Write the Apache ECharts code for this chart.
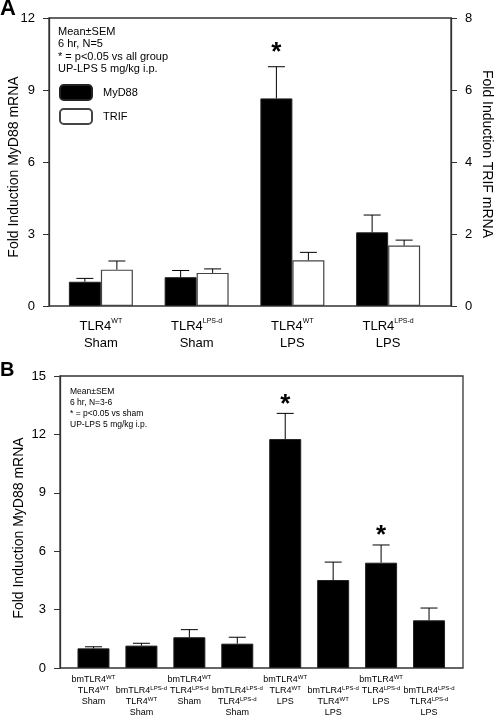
<!DOCTYPE html>
<html><head><meta charset="utf-8">
<script src="https://cdn.jsdelivr.net/npm/echarts@6/dist/echarts.min.js"></script>
<style>html,body{margin:0;padding:0;background:#fff}#c{width:494px;height:716px}</style>
</head><body><div id="c"></div>
<script>
// ---------- Panel A data ----------
const categoriesA = ['TLR4<WT>\nSham', 'TLR4<LPS-d>\nSham', 'TLR4<WT>\nLPS', 'TLR4<LPS-d>\nLPS'];
const myd88A    = [1.01, 1.20, 8.65, 3.07];
const myd88ErrA = [0.14, 0.28, 1.32, 0.72];
const trifA     = [1.01, 0.92, 1.27, 1.68];
const trifErrA  = [0.24, 0.11, 0.22, 0.15];
const sigMyd88A = [false, false, true, false];
const leftTicksA  = { min: 0, max: 12, interval: 3 };
const rightTicksA = { min: 0, max: 8, interval: 2 };

// ---------- Panel B data ----------
const categoriesB = [
  'bmTLR4<WT>\nTLR4<WT>\nSham',
  'bmTLR4<LPS-d>\nTLR4<WT>\nSham',
  'bmTLR4<WT>\nTLR4<LPS-d>\nSham',
  'bmTLR4<LPS-d>\nTLR4<LPS-d>\nSham',
  'bmTLR4<WT>\nTLR4<WT>\nLPS',
  'bmTLR4<LPS-d>\nTLR4<WT>\nLPS',
  'bmTLR4<WT>\nTLR4<LPS-d>\nLPS',
  'bmTLR4<LPS-d>\nTLR4<LPS-d>\nLPS'
];
const myd88B    = [1.01, 1.15, 1.58, 1.25, 11.76, 4.52, 5.41, 2.45];
const myd88ErrB = [0.08, 0.12, 0.39, 0.33, 1.32, 0.92, 0.91, 0.63];
const sigB      = [false, false, false, false, true, false, true, false];
const leftTicksB = { min: 0, max: 15, interval: 3 };

const FONT = "'Liberation Sans', Arial, Helvetica, sans-serif";
const AX = '#333';

function toRich(s) {
  return s.replace(/<([^>]+)>/g, '{s|$1}');
}

function errSeries(name, xi, yi, means, errs, sig, offset, cap, starGap) {
  return {
    type: 'custom', name: name, xAxisIndex: xi, yAxisIndex: yi, z: 5,
    data: means.map((m, i) => [i, m, errs[i], sig ? (sig[i] ? 1 : 0) : 0]),
    renderItem: function (params, api) {
      const i = api.value(0), m = api.value(1), e = api.value(2), s = api.value(3);
      const p0 = api.coord([i, m]);
      const p1 = api.coord([i, m + e]);
      const x = p0[0] + offset;
      const children = [
        { type: 'line', shape: { x1: x, y1: p0[1], x2: x, y2: p1[1] }, style: { stroke: '#000', lineWidth: 1 } },
        { type: 'line', shape: { x1: x - cap / 2, y1: p1[1], x2: x + cap / 2, y2: p1[1] }, style: { stroke: '#000', lineWidth: 1 } }
      ];
      if (s) {
        children.push({ type: 'text', style: { text: '*', x: x, y: p1[1] - starGap, align: 'center', verticalAlign: 'middle', font: 'bold 26px ' + FONT, fill: '#000' } });
      }
      return { type: 'group', children: children };
    }
  };
}

const chart = echarts.init(document.getElementById('c'), null, { renderer: 'canvas' });

const option = {
  backgroundColor: '#fff',
  animation: false,
  textStyle: { fontFamily: FONT, color: '#000' },
  grid: [
    { left: 49, top: 18, width: 402, height: 288, show: true, borderColor: AX, borderWidth: 1.3, backgroundColor: 'transparent', outerBoundsMode: 'none', containLabel: false },
    { left: 53, top: 18, width: 383, height: 288, outerBoundsMode: 'none', containLabel: false },
    { left: 60, top: 376, width: 403, height: 292, show: true, borderColor: AX, borderWidth: 1.3, backgroundColor: 'transparent', outerBoundsMode: 'none', containLabel: false },
    { left: 69.5, top: 376, width: 383.5, height: 292, outerBoundsMode: 'none', containLabel: false }
  ],
  xAxis: [
    { gridIndex: 0, type: 'value', show: false, min: 0, max: 1 },
    {
      gridIndex: 1, type: 'category', data: categoriesA,
      axisLine: { show: false }, axisTick: { show: false },
      axisLabel: {
        interval: 0, margin: 12, fontSize: 13, lineHeight: 17, color: '#000', fontFamily: FONT,
        formatter: v => toRich(v),
        rich: { s: { fontSize: 7, lineHeight: 8, verticalAlign: 'top', fontFamily: FONT } }
      }
    },
    { gridIndex: 2, type: 'value', show: false, min: 0, max: 1 },
    {
      gridIndex: 3, type: 'category', data: categoriesB,
      axisLine: { show: false }, axisTick: { show: false },
      axisLabel: {
        interval: 0, margin: 6, fontSize: 9, lineHeight: 11, color: '#000', fontFamily: FONT, hideOverlap: false,
        formatter: (v, idx) => (idx % 2 === 1 ? ' \n' : '') + toRich(v),
        rich: { s: { fontSize: 6, lineHeight: 7, verticalAlign: 'top', fontFamily: FONT } }
      }
    }
  ],
  yAxis: [
    {
      gridIndex: 0, type: 'value', position: 'left', min: leftTicksA.min, max: leftTicksA.max, interval: leftTicksA.interval,
      axisLine: { show: true, lineStyle: { color: AX, width: 1.3 } },
      axisTick: { show: true, inside: false, length: 6, lineStyle: { color: AX, width: 1 } },
      axisLabel: { margin: 14, fontSize: 13, color: '#000', fontFamily: FONT },
      splitLine: { show: false }
    },
    {
      gridIndex: 0, type: 'value', position: 'right', min: rightTicksA.min, max: rightTicksA.max, interval: rightTicksA.interval,
      axisLine: { show: true, lineStyle: { color: AX, width: 1.3 } },
      axisTick: { show: true, inside: false, length: 6, lineStyle: { color: AX, width: 1 } },
      axisLabel: { margin: 14, fontSize: 13, color: '#000', fontFamily: FONT },
      splitLine: { show: false }
    },
    { gridIndex: 1, type: 'value', show: false, min: leftTicksA.min, max: leftTicksA.max, splitLine: { show: false } },
    { gridIndex: 1, type: 'value', show: false, position: 'right', min: rightTicksA.min, max: rightTicksA.max, splitLine: { show: false } },
    {
      gridIndex: 2, type: 'value', position: 'left', min: leftTicksB.min, max: leftTicksB.max, interval: leftTicksB.interval,
      axisLine: { show: true, lineStyle: { color: AX, width: 1.3 } },
      axisTick: { show: true, inside: false, length: 6, lineStyle: { color: AX, width: 1 } },
      axisLabel: { margin: 14, fontSize: 13, color: '#000', fontFamily: FONT },
      splitLine: { show: false }
    },
    { gridIndex: 3, type: 'value', show: false, min: leftTicksB.min, max: leftTicksB.max, splitLine: { show: false } }
  ],
  legend: {
    data: ['MyD88', 'TRIF'], orient: 'vertical', left: 54, top: 79,
    itemWidth: 32, itemHeight: 15, itemGap: 7, selectedMode: false,
    textStyle: { fontSize: 11, color: '#000', fontFamily: FONT, padding: [0, 0, 0, 6] }
  },
  series: [
    {
      name: 'MyD88', type: 'bar', xAxisIndex: 1, yAxisIndex: 2, data: myd88A,
      barWidth: 32, barGap: '0%', itemStyle: { color: '#000', borderColor: '#222', borderWidth: 1 }
    },
    {
      name: 'TRIF', type: 'bar', xAxisIndex: 1, yAxisIndex: 3, data: trifA,
      barWidth: 32, barGap: '0%', itemStyle: { color: '#fff', borderColor: '#444', borderWidth: 1.2 }
    },
    errSeries('MyD88 err', 1, 2, myd88A, myd88ErrA, sigMyd88A, -16, 17, 14),
    errSeries('TRIF err', 1, 3, trifA, trifErrA, null, 16, 17, 14),
    {
      name: 'MyD88 B', type: 'bar', xAxisIndex: 3, yAxisIndex: 5, data: myd88B,
      barWidth: 32, itemStyle: { color: '#000', borderColor: '#222', borderWidth: 1 }
    },
    errSeries('MyD88 B err', 3, 5, myd88B, myd88ErrB, sigB, 0, 17, 9)
  ],
  graphic: [
    { type: 'text', x: 0, y: 9, style: { text: 'A', font: 'bold 22px ' + FONT, fill: '#000', align: 'left', verticalAlign: 'middle' } },
    { type: 'text', x: 0, y: 370, style: { text: 'B', font: 'bold 20px ' + FONT, fill: '#000', align: 'left', verticalAlign: 'middle' } },
    { type: 'text', x: 58, y: 26, style: { text: 'Mean±SEM\n6 hr, N=5\n* = p<0.05 vs all group\nUP-LPS 5 mg/kg i.p.', font: '11px ' + FONT, lineHeight: 12.3, fill: '#000', align: 'left', verticalAlign: 'top' } },
    { type: 'text', x: 70, y: 386.5, style: { text: 'Mean±SEM\n6 hr, N=3-6\n* = p<0.05 vs sham\nUP-LPS 5 mg/kg i.p.', font: '8.5px ' + FONT, lineHeight: 11, fill: '#000', align: 'left', verticalAlign: 'top' } },
    { type: 'text', x: 14, y: 167, rotation: Math.PI / 2, style: { text: 'Fold Induction MyD88 mRNA', font: '14px ' + FONT, fill: '#000', align: 'center', verticalAlign: 'middle' } },
    { type: 'text', x: 487, y: 154, rotation: -Math.PI / 2, style: { text: 'Fold Induction TRIF mRNA', font: '14px ' + FONT, fill: '#000', align: 'center', verticalAlign: 'middle' } },
    { type: 'text', x: 19, y: 528, rotation: Math.PI / 2, style: { text: 'Fold Induction MyD88 mRNA', font: '14px ' + FONT, fill: '#000', align: 'center', verticalAlign: 'middle' } }
  ]
};
chart.setOption(option);
</script>
</body></html>
